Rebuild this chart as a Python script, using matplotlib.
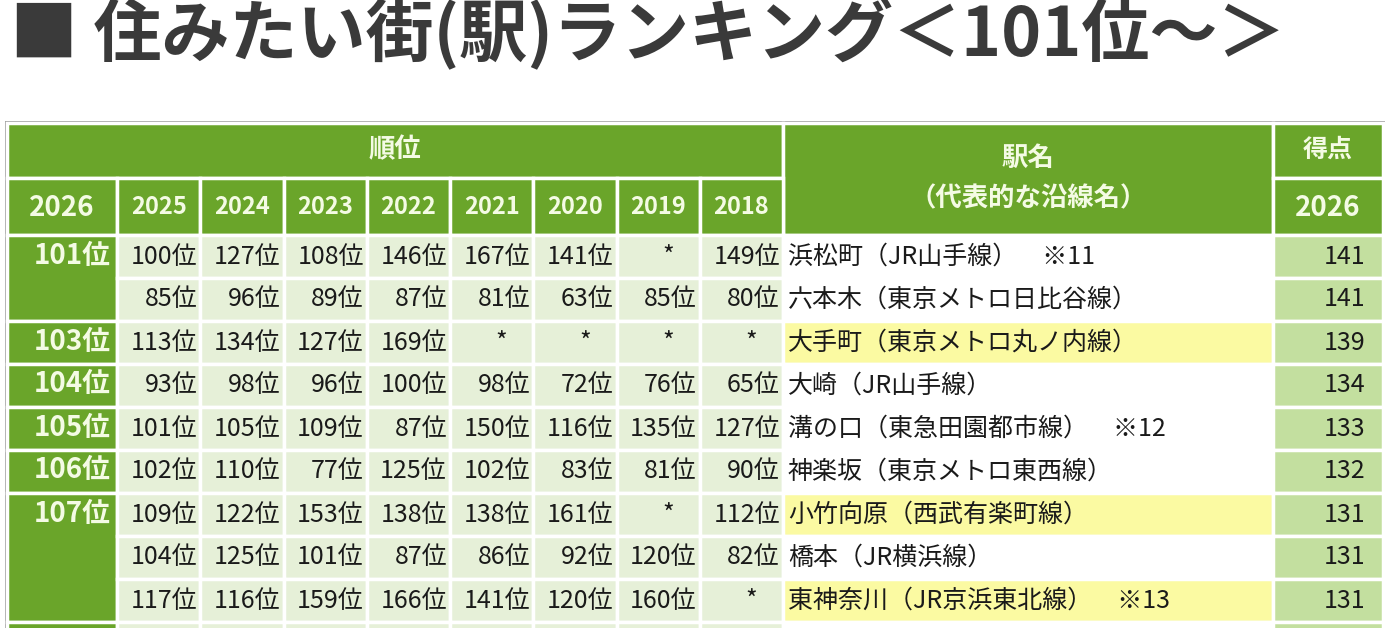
import matplotlib
matplotlib.use("Agg")
import matplotlib.pyplot as plt
from matplotlib.patches import Rectangle

plt.rcParams['font.family'] = ['Noto Sans CJK JP', 'DejaVu Sans']

title = "■ 住みたい街(駅)ランキング＜101位～＞"
years = ["2025", "2024", "2023", "2022", "2021", "2020", "2019", "2018"]
ranks = ["101位", "", "103位", "104位", "105位", "106位", "107位", "", ""]
rank_spans = [2, 0, 1, 1, 1, 1, 3, 0, 0]
history = [
    ["100位", "127位", "108位", "146位", "167位", "141位", "*", "149位"],
    ["85位", "96位", "89位", "87位", "81位", "63位", "85位", "80位"],
    ["113位", "134位", "127位", "169位", "*", "*", "*", "*"],
    ["93位", "98位", "96位", "100位", "98位", "72位", "76位", "65位"],
    ["101位", "105位", "109位", "87位", "150位", "116位", "135位", "127位"],
    ["102位", "110位", "77位", "125位", "102位", "83位", "81位", "90位"],
    ["109位", "122位", "153位", "138位", "138位", "161位", "*", "112位"],
    ["104位", "125位", "101位", "87位", "86位", "92位", "120位", "82位"],
    ["117位", "116位", "159位", "166位", "141位", "120位", "160位", "*"],
]
stations = ["浜松町（JR山手線）　※11", "六本木（東京メトロ日比谷線）", "大手町（東京メトロ丸ノ内線）",
            "大崎（JR山手線）", "溝の口（東急田園都市線）　※12", "神楽坂（東京メトロ東西線）",
            "小竹向原（西武有楽町線）", "橋本（JR横浜線）", "東神奈川（JR京浜東北線）　※13"]
highlight = [False, False, True, False, False, False, True, False, True]
scores = [141, 141, 139, 134, 133, 132, 131, 131, 131]

W, H = 1390, 628
fig = plt.figure(figsize=(W/100, H/100), dpi=100)
ax = fig.add_axes([0, 0, 1, 1])
ax.set_xlim(0, W); ax.set_ylim(H, 0); ax.axis('off')

GREEN = "#6aa52a"; HEAD_TXT = "#f4fbe4"; LIGHT = "#e6f0d8"; SCORE = "#c3df9f"
YEL = "#fbfaa2"; LINE = "#ffffff"; TXT = "#1a1a1a"
FS = 18

ax.text(10, 35, title, fontsize=49, fontweight='bold', color="#3a3a3a", va='center', ha='left')

x0, x_rank, x_station, x_score, x1 = 7, 117, 783, 1273, 1383
ycw = (x_station - x_rank) / len(years)
yh0, yh1, yh2 = 123, 178, 235
rh = 43

def rect(x, y, w, h, fc):
    ax.add_patch(Rectangle((x, y), w, h, facecolor=fc, edgecolor=LINE, lw=2.5))

ax.add_patch(Rectangle((x0-2, yh0-2), x1-x0+4, H, facecolor="#a0a0a0", edgecolor='none'))
rect(x0, yh0, x_station - x0, yh1 - yh0, GREEN)
ax.text((x0 + x_station)/2, 150, "順位", fontsize=19, fontweight='bold', color=HEAD_TXT, ha='center', va='center')
rect(x_station, yh0, x_score - x_station, yh2 - yh0, GREEN)
ax.text((x_station+x_score)/2, 158, "駅名", fontsize=19, fontweight='bold', color=HEAD_TXT, ha='center', va='center')
ax.text((x_station+x_score)/2, 199, "（代表的な沿線名）", fontsize=19, fontweight='bold', color=HEAD_TXT, ha='center', va='center')
rect(x_score, yh0, x1 - x_score, yh1 - yh0, GREEN)
ax.text((x_score+x1)/2, 150, "得点", fontsize=18, fontweight='bold', color=HEAD_TXT, ha='center', va='center')
rect(x_score, yh1, x1 - x_score, yh2 - yh1, GREEN)
ax.text((x_score+x1)/2, 208, "2026", fontsize=20, fontweight='bold', color=HEAD_TXT, ha='center', va='center')
rect(x0, yh1, x_rank - x0, yh2 - yh1, GREEN)
ax.text((x0+x_rank)/2, 208, "2026", fontsize=20, fontweight='bold', color=HEAD_TXT, ha='center', va='center')
for j, yr in enumerate(years):
    xx = x_rank + j*ycw
    rect(xx, yh1, ycw, yh2 - yh1, GREEN)
    ax.text(xx + ycw/2, 207, yr, fontsize=17, fontweight='bold', color=HEAD_TXT, ha='center', va='center')

for i in range(len(history) + 1):
    y = yh2 + i*rh
    if i == len(history):
        rect(x0, y, x_rank-x0, rh, GREEN)
        for j in range(len(years)):
            rect(x_rank + j*ycw, y, ycw, rh, LIGHT)
        rect(x_station, y, x_score-x_station, rh, "white")
        rect(x_score, y, x1-x_score, rh, SCORE)
        break
    if rank_spans[i]:
        rect(x0, y, x_rank-x0, rh*rank_spans[i], GREEN)
        ax.text(x_rank - 6, y + rh/2 - 1, ranks[i], fontsize=20, fontweight='bold', color=HEAD_TXT, ha='right', va='center')
    for j, v in enumerate(history[i]):
        xx = x_rank + j*ycw
        rect(xx, y, ycw, rh, LIGHT)
        if v == "*":
            ax.text(xx + ycw/2 + 10, y + rh/2, v, fontsize=FS, color=TXT, ha='center', va='center')
        else:
            ax.text(xx + ycw - 3, y + rh/2, v, fontsize=FS, color=TXT, ha='right', va='center')
    rect(x_station, y, x_score-x_station, rh, YEL if highlight[i] else "white")
    ax.text(x_station + 5, y + rh/2, stations[i], fontsize=FS, color=TXT, ha='left', va='center')
    rect(x_score, y, x1-x_score, rh, SCORE)
    ax.text(x1 - 18, y + rh/2, str(scores[i]), fontsize=FS, color=TXT, ha='right', va='center')

fig.savefig("out.png", dpi=100, facecolor="white")
